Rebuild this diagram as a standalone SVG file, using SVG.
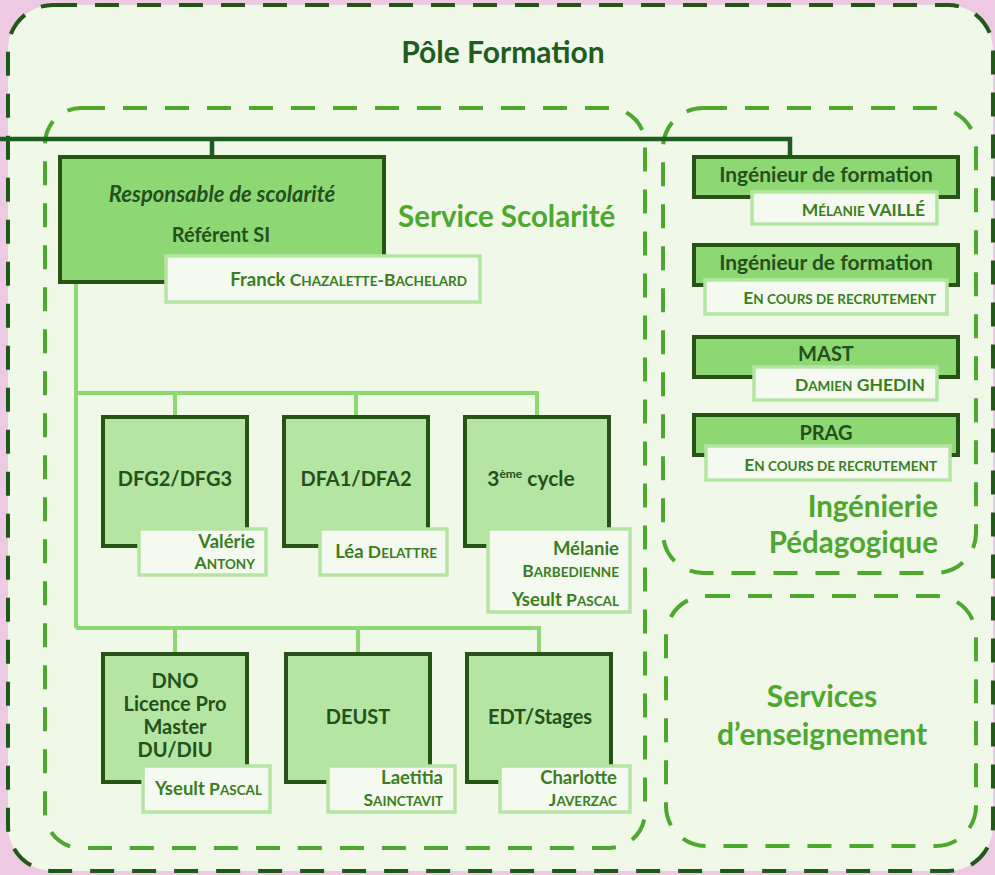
<svg xmlns="http://www.w3.org/2000/svg" width="995" height="875" viewBox="0 0 995 875">
<style>
text{font-family:Lato,"Open Sans","Liberation Sans",sans-serif;font-weight:bold}
.title{fill:#215C1F;font-size:30px}
.cont{fill:none;stroke:#4EA72E;stroke-width:4;stroke-dasharray:24 18}
.clabel{fill:#4EA72E;font-size:29.5px}
.main{fill:#8ED873;stroke:#275317;stroke-width:4}
.sub{fill:#B4E5A2;stroke:#275317;stroke-width:4}
.name{fill:#F5FAF0;stroke:#B4E5A2;stroke-width:3.5}
.bt{fill:#24501C;font-size:20px}
.nt{fill:#3B7D23;font-size:17.5px}
.lc{font-size:18.5px}
.sc{font-size:13.5px}
.dark{fill:none;stroke:#1A5E20;stroke-width:4.5}
.light{fill:none;stroke:#8ED873;stroke-width:4}
</style>
<rect x="0" y="0" width="995" height="875" fill="#EEC9E3"/>
<g id="pole">
<rect x="8" y="5" width="985" height="866" rx="45" fill="#F0F8E8" stroke="#22561A" stroke-width="4" stroke-dasharray="24 18"/>
<text class="title" x="503" y="63" text-anchor="middle">Pôle Formation</text>
</g>
<g id="service-scolarite">
<rect class="cont" x="45" y="108" width="600" height="740" rx="36"/>
<text class="clabel" x="398" y="227">Service Scolarité</text>
</g>
<g id="ingenierie">
<rect class="cont" x="663" y="108" width="313" height="465" rx="40"/>
<text class="clabel" x="938" y="517" text-anchor="end">Ingénierie</text>
<text class="clabel" x="938" y="553" text-anchor="end">Pédagogique</text>
</g>
<g id="services-enseignement">
<rect class="cont" x="666" y="596" width="310" height="250" rx="40"/>
<text class="clabel" x="822" y="707" text-anchor="middle" style="font-size:30px">Services</text>
<text class="clabel" x="822" y="745" text-anchor="middle" style="font-size:30px">d’enseignement</text>
</g>
<g id="connectors">
<path class="dark" d="M0,139 H790 V157 M212,139 V157"/>
<path class="light" d="M76,282 V628 M76,393 H537 V417 M175,393 V417 M356,393 V417 M76,628 H539 V654 M175,628 V654 M358,628 V654"/>
</g>
<g id="responsable">
<rect class="main" x="60" y="157" width="324" height="125"/>
<text class="bt" x="222" y="202" text-anchor="middle" font-style="italic" style="font-size:22px">Responsable de scolarité</text>
<text class="bt" x="221" y="242" text-anchor="middle">Référent SI</text>
<rect class="name" x="166" y="256" width="314" height="46"/>
<text class="nt" x="467" y="286" text-anchor="end"><tspan class="lc">Franck</tspan> C<tspan class="sc">HAZALETTE</tspan>-B<tspan class="sc">ACHELARD</tspan></text>
</g>
<g id="dfg">
<rect class="sub" x="103" y="417" width="144" height="129"/>
<text class="bt" x="175" y="486" text-anchor="middle">DFG2/DFG3</text>
<rect class="name" x="139" y="529" width="127" height="46"/>
<text class="nt lc" x="255" y="548" text-anchor="end">Valérie</text>
<text class="nt" x="255" y="569" text-anchor="end">A<tspan class="sc">NTONY</tspan></text>
</g>
<g id="dfa">
<rect class="sub" x="284" y="417" width="144" height="129"/>
<text class="bt" x="356" y="486" text-anchor="middle">DFA1/DFA2</text>
<rect class="name" x="320" y="529" width="127" height="46"/>
<text class="nt" x="437" y="558" text-anchor="end"><tspan class="lc">Léa</tspan> D<tspan class="sc">ELATTRE</tspan></text>
</g>
<g id="cycle3">
<rect class="sub" x="465" y="417" width="144" height="129"/>
<text class="bt" x="531" y="486" text-anchor="middle" style="font-size:21px">3<tspan font-size="12" dy="-8">ème</tspan><tspan dy="8"> cycle</tspan></text>
<rect class="name" x="488" y="529" width="142" height="83"/>
<text class="nt lc" x="619" y="555" text-anchor="end">Mélanie</text>
<text class="nt" x="619" y="577" text-anchor="end">B<tspan class="sc">ARBEDIENNE</tspan></text>
<text class="nt" x="619" y="606" text-anchor="end"><tspan class="lc">Yseult</tspan> P<tspan class="sc">ASCAL</tspan></text>
</g>
<g id="dno">
<rect class="sub" x="103" y="654" width="144" height="128"/>
<text class="bt" x="175" y="688" text-anchor="middle">DNO</text>
<text class="bt" x="175" y="711" text-anchor="middle">Licence Pro</text>
<text class="bt" x="175" y="734" text-anchor="middle">Master</text>
<text class="bt" x="175" y="757" text-anchor="middle">DU/DIU</text>
<rect class="name" x="143" y="766" width="127" height="46"/>
<text class="nt" x="262" y="795" text-anchor="end"><tspan class="lc">Yseult</tspan> P<tspan class="sc">ASCAL</tspan></text>
</g>
<g id="deust">
<rect class="sub" x="286" y="654" width="144" height="128"/>
<text class="bt" x="358" y="724" text-anchor="middle">DEUST</text>
<rect class="name" x="328" y="766" width="127" height="46"/>
<text class="nt lc" x="443" y="784" text-anchor="end">Laetitia</text>
<text class="nt" x="443" y="806" text-anchor="end">S<tspan class="sc">AINCTAVIT</tspan></text>
</g>
<g id="edt">
<rect class="sub" x="467" y="654" width="144" height="128"/>
<text class="bt" x="540" y="724" text-anchor="middle">EDT/Stages</text>
<rect class="name" x="500" y="766" width="130" height="46"/>
<text class="nt lc" x="617" y="784" text-anchor="end">Charlotte</text>
<text class="nt" x="617" y="806" text-anchor="end">J<tspan class="sc">AVERZAC</tspan></text>
</g>
<g id="ingenieur1">
<rect class="main" x="694" y="157" width="264" height="40"/>
<text class="bt" x="826" y="182" text-anchor="middle" style="font-size:21px">Ingénieur de formation</text>
<rect class="name" x="752" y="192" width="185" height="32"/>
<text class="nt" x="925" y="216" text-anchor="end">M<tspan class="sc">ÉLANIE</tspan> VAILLÉ</text>
</g>
<g id="ingenieur2">
<rect class="main" x="694" y="245" width="264" height="40"/>
<text class="bt" x="826" y="270" text-anchor="middle" style="font-size:21px">Ingénieur de formation</text>
<rect class="name" x="705" y="280" width="242" height="34"/>
<text class="nt" x="936" y="304" text-anchor="end">E<tspan class="sc">N COURS DE RECRUTEMENT</tspan></text>
</g>
<g id="mast">
<rect class="main" x="694" y="337" width="264" height="40"/>
<text class="bt" x="826" y="361" text-anchor="middle">MAST</text>
<rect class="name" x="754" y="367" width="183" height="33"/>
<text class="nt" x="925" y="391" text-anchor="end">D<tspan class="sc">AMIEN</tspan> GHEDIN</text>
</g>
<g id="prag">
<rect class="main" x="694" y="415" width="264" height="40"/>
<text class="bt" x="826" y="440" text-anchor="middle">PRAG</text>
<rect class="name" x="706" y="446" width="244" height="34"/>
<text class="nt" x="937" y="471" text-anchor="end">E<tspan class="sc">N COURS DE RECRUTEMENT</tspan></text>
</g>
</svg>
